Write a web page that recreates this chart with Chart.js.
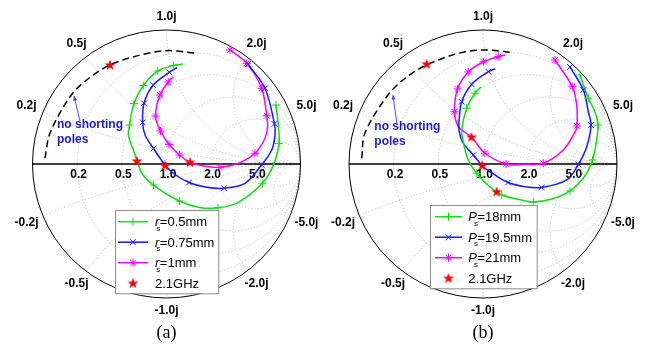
<!DOCTYPE html>
<html><head><meta charset="utf-8">
<script src="https://cdn.jsdelivr.net/npm/chart.js@4.4.1/dist/chart.umd.min.js"></script>
<style>html,body{margin:0;padding:0;background:#fff;overflow:hidden}canvas{display:block}</style>
</head><body>
<canvas id="c" width="651" height="345"></canvas>
<script>
// ===== DATA (reflection coefficient plane: real / imaginary parts) =====
const resistanceTicks = [0.2, 0.5, 1.0, 2.0, 5.0];
const resistanceLabels = ['0.2', '0.5', '1.0', '2.0', '5.0'];
const reactanceTicks = [0.2, 0.5, 1.0, 2.0, 5.0];
const reactanceLabels = ['0.2j', '0.5j', '1.0j', '2.0j', '5.0j'];

// ---- panel (a): r_s sweep ----
const aLegendSymbol = 'r';
const aLegendValues = ['0.5mm', '0.75mm', '1mm'];
const aGreenRe = [0.121,0.051,-0.066,-0.173,-0.243,-0.276,-0.284,-0.248,-0.218,-0.185,-0.097,0.096,0.245,0.384,0.536,0.715,0.797,0.840,0.836,0.817];
const aGreenIm = [0.746,0.735,0.694,0.586,0.451,0.291,0.216,0.104,0.022,-0.069,-0.157,-0.276,-0.324,-0.327,-0.286,-0.144,-0.010,0.154,0.270,0.440];
const aGreenMkRe = [0.051,-0.066,-0.173,-0.243,-0.276,-0.097,0.096,0.384,0.715,0.840,0.817];
const aGreenMkIm = [0.735,0.694,0.586,0.451,0.291,-0.157,-0.276,-0.327,-0.144,0.154,0.440];
const aBlueRe = [0.078,0.021,-0.099,-0.168,-0.178,-0.160,-0.097,-0.011,0.051,0.168,0.300,0.429,0.586,0.710,0.785,0.810,0.806,0.735,0.608];
const aBlueIm = [0.720,0.684,0.590,0.453,0.311,0.216,0.116,-0.007,-0.069,-0.138,-0.174,-0.181,-0.144,-0.007,0.104,0.216,0.299,0.565,0.746];
const aBlueMkRe = [0.021,-0.099,-0.168,-0.178,-0.097,0.168,0.429,0.710,0.806,0.735,0.608];
const aBlueMkIm = [0.684,0.590,0.453,0.311,0.116,-0.138,-0.181,-0.007,0.299,0.565,0.746];
const aMagRe = [0.049,0.013,-0.049,-0.082,-0.045,0.019,0.097,0.175,0.275,0.399,0.536,0.660,0.735,0.754,0.748,0.710,0.599,0.474];
const aMagIm = [0.649,0.612,0.515,0.358,0.246,0.146,0.067,0.013,-0.015,-0.025,0.005,0.080,0.192,0.276,0.360,0.565,0.751,0.851];
const aMagMkRe = [0.013,-0.049,-0.082,-0.045,0.019,0.097,0.399,0.660,0.748,0.710,0.599,0.474];
const aMagMkIm = [0.612,0.515,0.358,0.246,0.146,0.067,-0.025,0.080,0.360,0.565,0.751,0.851];
const aStarRe = [-0.422,-0.222,-0.011,0.175];
const aStarIm = [0.739,0.022,-0.011,0.013];
const aDashRe = [-0.907,-0.869,-0.720,-0.596,-0.422,-0.198,0.001,0.225];
const aDashIm = [0.043,0.231,0.502,0.627,0.739,0.813,0.846,0.826];

// ---- panel (b): P_s sweep ----
const bLegendSymbol = 'P';
const bLegendValues = ['18mm', '19.5mm', '21mm'];
const bGreenRe = [-0.015,-0.060,-0.122,-0.159,-0.147,-0.110,-0.047,0.052,0.140,0.301,0.375,0.515,0.649,0.760,0.817,0.845,0.858,0.836,0.786,0.724];
const bGreenIm = [0.575,0.528,0.416,0.254,0.164,0.030,-0.069,-0.172,-0.231,-0.272,-0.284,-0.261,-0.201,-0.090,0.030,0.160,0.291,0.388,0.490,0.664];
const bGreenMkRe = [-0.060,-0.122,-0.047,0.140,0.375,0.649,0.817,0.858,0.786,0.724];
const bGreenMkIm = [0.528,0.416,-0.069,-0.231,-0.284,-0.201,0.030,0.291,0.490,0.664];
const bBlueRe = [0.090,0.040,-0.084,-0.159,-0.177,-0.179,-0.149,-0.072,0.002,0.090,0.187,0.313,0.438,0.625,0.711,0.774,0.806,0.786,0.749,0.649];
const bBlueIm = [0.709,0.689,0.595,0.465,0.341,0.254,0.157,0.067,-0.020,-0.082,-0.138,-0.169,-0.175,-0.119,-0.004,0.129,0.291,0.390,0.552,0.724];
const bBlueMkRe = [0.040,-0.084,-0.159,-0.072,0.187,0.438,0.711,0.806,0.749,0.649];
const bBlueMkIm = [0.689,0.595,0.465,0.067,-0.138,-0.175,-0.004,0.291,0.552,0.724];
const bMagRe = [0.164,0.114,0.004,-0.110,-0.190,-0.213,-0.187,-0.134,-0.086,0.015,0.172,0.313,0.450,0.599,0.687,0.701,0.699,0.666,0.537];
const bMagIm = [0.813,0.801,0.763,0.687,0.560,0.390,0.284,0.235,0.201,0.080,0.000,-0.004,0.005,0.104,0.239,0.284,0.440,0.577,0.776];
const bMagMkRe = [0.114,0.004,-0.110,-0.190,-0.213,0.015,0.172,0.450,0.701,0.666,0.537];
const bMagMkIm = [0.801,0.763,0.687,0.560,0.390,0.080,0.000,0.005,0.284,0.577,0.776];
const bStarRe = [-0.420,-0.086,-0.007,0.102];
const bStarIm = [0.746,0.201,-0.011,-0.207];
const bDashRe = [-0.905,-0.881,-0.719,-0.582,-0.420,-0.184,0.015,0.226];
const bDashIm = [0.043,0.231,0.502,0.640,0.739,0.826,0.851,0.831];

const starLabel = '2.1GHz';
const noteLines = ['no shorting', 'poles'];
const captions = ['(a)', '(b)'];

// ===== LAYOUT / STYLE =====
const W = 651, H = 345;
const R_PX = 134, CY = 164;
const PANELS = [
  {xid: 'xa', cx: 166.5, legend: {x0: 115, y0: 210, x1: 218.3, y1: 293.3, lx0: 118, lx1: 148, tx: 155, ry: 221.7},
   note: {re: -0.817, im: 0.291}, arrow: {re0: -0.646, im0: 0.321, re1: -0.690, im1: 0.507}},
  {xid: 'xb', cx: 483, legend: {x0: 430, y0: 205, x1: 536.7, y1: 288.3, lx0: 435, lx1: 462, tx: 468.3, ry: 216.7},
   note: {re: -0.811, im: 0.278}, arrow: {re0: -0.642, im0: 0.299, re1: -0.672, im1: 0.515}}
];
const GREEN = '#10e010', BLUE = '#1a1aff', MAG = '#ff00ff', RED = '#ff0000';
const FONT = '"Liberation Sans", Arial, sans-serif';
const TENSION = 0.33;

// red five-point star marker
const starImg = document.createElement('canvas');
starImg.width = 12; starImg.height = 12;
(function(){
  const g = starImg.getContext('2d');
  g.fillStyle = RED; g.beginPath();
  for (let i = 0; i < 10; i++) {
    const r = i % 2 ? 2.3 : 5.8, a = -Math.PI / 2 + i * Math.PI / 5;
    const x = 6 + r * Math.cos(a), y = 6.3 + r * Math.sin(a);
    i ? g.lineTo(x, y) : g.moveTo(x, y);
  }
  g.closePath(); g.fill();
})();

function pts(re, im) { return re.map((v, i) => ({x: v, y: im[i]})); }
function lineDs(re, im, xid, color, extra) {
  return Object.assign({data: pts(re, im), xAxisID: xid, yAxisID: 'y', showLine: true, pointRadius: 0,
    borderColor: color, borderWidth: 1.5, tension: TENSION, fill: false, order: 2}, extra || {});
}
function markDs(re, im, xid, color, style) {
  return {data: pts(re, im), xAxisID: xid, yAxisID: 'y', showLine: false, pointStyle: style, pointRadius: 4,
    borderColor: color, borderWidth: 1, backgroundColor: 'rgba(0,0,0,0)', order: 1};
}
function starDs(re, im, xid) {
  return {data: pts(re, im), xAxisID: xid, yAxisID: 'y', showLine: false, pointStyle: starImg, pointRadius: 6, order: 0};
}

const datasets = [
  starDs(aStarRe, aStarIm, 'xa'), starDs(bStarRe, bStarIm, 'xb'),
  lineDs(aDashRe, aDashIm, 'xa', '#000', {borderDash: [7, 4], order: 3}),
  lineDs(bDashRe, bDashIm, 'xb', '#000', {borderDash: [7, 4], order: 3}),
  lineDs(aGreenRe, aGreenIm, 'xa', GREEN), markDs(aGreenMkRe, aGreenMkIm, 'xa', GREEN, 'cross'),
  lineDs(aBlueRe, aBlueIm, 'xa', BLUE), markDs(aBlueMkRe, aBlueMkIm, 'xa', BLUE, 'crossRot'),
  lineDs(aMagRe, aMagIm, 'xa', MAG), markDs(aMagMkRe, aMagMkIm, 'xa', MAG, 'star'),
  lineDs(bGreenRe, bGreenIm, 'xb', GREEN), markDs(bGreenMkRe, bGreenMkIm, 'xb', GREEN, 'cross'),
  lineDs(bBlueRe, bBlueIm, 'xb', BLUE), markDs(bBlueMkRe, bBlueMkIm, 'xb', BLUE, 'crossRot'),
  lineDs(bMagRe, bMagIm, 'xb', MAG), markDs(bMagMkRe, bMagMkIm, 'xb', MAG, 'star')
];

function drawMark(ctx, style, x, y, r, color) {
  ctx.save(); ctx.strokeStyle = color; ctx.lineWidth = 1; ctx.beginPath();
  if (style === 'cross' || style === 'star') { ctx.moveTo(x - r, y); ctx.lineTo(x + r, y); ctx.moveTo(x, y - r); ctx.lineTo(x, y + r); }
  if (style === 'crossRot' || style === 'star') { const d = r * 0.7071; ctx.moveTo(x - d, y - d); ctx.lineTo(x + d, y + d); ctx.moveTo(x - d, y + d); ctx.lineTo(x + d, y - d); }
  ctx.stroke(); ctx.restore();
}

function drawGrid(chart, p) {
  const ctx = chart.ctx, xs = chart.scales[p.xid], ys = chart.scales.y;
  const X = v => xs.getPixelForValue(v), Y = v => ys.getPixelForValue(v);
  const cx = X(0), cy = Y(0), R = X(1) - X(0);
  ctx.save();
  ctx.beginPath(); ctx.arc(cx, cy, R, 0, 2 * Math.PI); ctx.clip();
  ctx.strokeStyle = '#bcbcbc'; ctx.lineWidth = 0.9; ctx.setLineDash([1.2, 2]);
  resistanceTicks.forEach(r => { ctx.beginPath(); ctx.arc(X(r / (1 + r)), cy, R / (1 + r), 0, 2 * Math.PI); ctx.stroke(); });
  reactanceTicks.forEach(x => [1, -1].forEach(s => { ctx.beginPath(); ctx.arc(X(1), Y(s / x), R / x, 0, 2 * Math.PI); ctx.stroke(); }));
  ctx.restore();
  ctx.save();
  ctx.strokeStyle = '#000'; ctx.lineWidth = 1;
  ctx.beginPath(); ctx.arc(cx, cy, R, 0, 2 * Math.PI); ctx.stroke();
  ctx.lineWidth = 1.4; ctx.beginPath(); ctx.moveTo(X(-1), cy); ctx.lineTo(X(1), cy); ctx.stroke();
  ctx.fillStyle = '#000'; ctx.font = 'bold 12px ' + FONT; ctx.textAlign = 'center'; ctx.textBaseline = 'middle';
  resistanceTicks.forEach((r, i) => ctx.fillText(resistanceLabels[i], X((r - 1) / (r + 1)) + 1.5, cy + 11));
  reactanceTicks.forEach((x, i) => [1, -1].forEach(s => {
    const gr = (x * x - 1) / (x * x + 1), gi = s * 2 * x / (x * x + 1), d = 13 + 5 * Math.abs(gr);
    ctx.fillText((s < 0 ? '-' : '') + reactanceLabels[i], cx + gr * (R + d), cy - gi * (R + d));
  }));
  ctx.restore();
}

function drawOverlay(chart, p, idx) {
  const ctx = chart.ctx, xs = chart.scales[p.xid], ys = chart.scales.y;
  const X = v => xs.getPixelForValue(v), Y = v => ys.getPixelForValue(v);
  ctx.save();
  // note + arrow
  ctx.fillStyle = '#1c1cc8'; ctx.font = 'bold 12px ' + FONT; ctx.textAlign = 'left'; ctx.textBaseline = 'middle';
  ctx.fillText(noteLines[0], X(p.note.re), Y(p.note.im));
  ctx.fillText(noteLines[1], X(p.note.re), Y(p.note.im) + 15);
  const x0 = X(p.arrow.re0), y0 = Y(p.arrow.im0), x1 = X(p.arrow.re1), y1 = Y(p.arrow.im1);
  ctx.strokeStyle = '#3a3aff'; ctx.fillStyle = '#3a3aff'; ctx.lineWidth = 0.9;
  ctx.beginPath(); ctx.moveTo(x0, y0); ctx.lineTo(x1, y1); ctx.stroke();
  const a = Math.atan2(y1 - y0, x1 - x0);
  ctx.beginPath(); ctx.moveTo(x1, y1);
  ctx.lineTo(x1 - 5 * Math.cos(a - 0.4), y1 - 5 * Math.sin(a - 0.4));
  ctx.lineTo(x1 - 5 * Math.cos(a + 0.4), y1 - 5 * Math.sin(a + 0.4));
  ctx.closePath(); ctx.fill();
  // legend
  const L = p.legend;
  ctx.fillStyle = '#fff'; ctx.fillRect(L.x0, L.y0, L.x1 - L.x0, L.y1 - L.y0);
  ctx.strokeStyle = '#8c8c8c'; ctx.lineWidth = 1; ctx.strokeRect(L.x0 + 0.5, L.y0 + 0.5, L.x1 - L.x0, L.y1 - L.y0);
  const sym = idx ? bLegendSymbol : aLegendSymbol, vals = idx ? bLegendValues : aLegendValues;
  const cols = [GREEN, BLUE, MAG], styles = ['cross', 'crossRot', 'star'];
  const mid = (L.lx0 + L.lx1) / 2;
  for (let i = 0; i < 3; i++) {
    const y = L.ry + i * 20.5;
    ctx.strokeStyle = cols[i]; ctx.lineWidth = 1.5;
    ctx.beginPath(); ctx.moveTo(L.lx0, y); ctx.lineTo(L.lx1, y); ctx.stroke();
    drawMark(ctx, styles[i], mid, y, 4, cols[i]);
    ctx.fillStyle = '#000'; ctx.textBaseline = 'alphabetic';
    ctx.font = 'italic 13px ' + FONT;
    const sw = ctx.measureText(sym).width;
    ctx.fillText(sym, L.tx, y + 4.5);
    ctx.font = '8px ' + FONT;
    ctx.fillText('s', L.tx + sw - 3, y + 9);
    ctx.font = '13px ' + FONT;
    ctx.fillText('=' + vals[i], L.tx + sw + 0.5, y + 4.5);
  }
  const ys3 = L.ry + 3 * 20.5;
  ctx.drawImage(starImg, mid - 6, ys3 - 6);
  ctx.font = '13px ' + FONT; ctx.fillStyle = '#000';
  ctx.fillText(starLabel, L.tx, ys3 + 4.5);
  // caption
  ctx.font = '18px "Liberation Serif", "Times New Roman", serif'; ctx.textAlign = 'center'; ctx.textBaseline = 'middle';
  ctx.fillText(captions[idx], X(0), 333);
  ctx.restore();
}

const smithPlugin = {
  id: 'smith',
  beforeDraw(chart) { const c = chart.ctx; c.save(); c.fillStyle = '#fff'; c.fillRect(0, 0, chart.width, chart.height); c.restore(); },
  beforeDatasetsDraw(chart) { PANELS.forEach(p => drawGrid(chart, p)); },
  afterDatasetsDraw(chart) { PANELS.forEach((p, i) => drawOverlay(chart, p, i)); }
};

const scales = {
  y: {type: 'linear', axis: 'y', display: false, min: -(H - CY) / R_PX, max: CY / R_PX}
};
PANELS.forEach(p => { scales[p.xid] = {type: 'linear', axis: 'x', display: false, min: -p.cx / R_PX, max: (W - p.cx) / R_PX}; });

new Chart(document.getElementById('c'), {
  type: 'scatter',
  data: {datasets},
  options: {
    responsive: false, animation: false, devicePixelRatio: 1, events: [],
    layout: {padding: 0, autoPadding: false},
    plugins: {legend: {display: false}, tooltip: {enabled: false}, title: {display: false}},
    scales
  },
  plugins: [smithPlugin]
});
</script>
</body></html>
